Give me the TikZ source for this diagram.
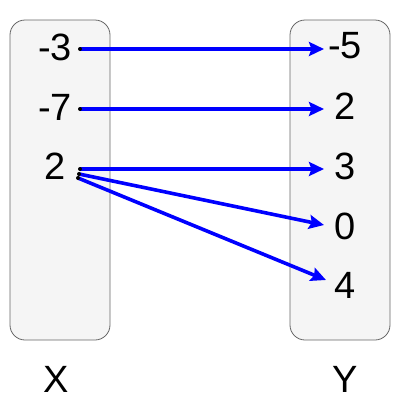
\documentclass[tikz,border=0pt]{standalone}
\usepackage{fontspec}
\setmainfont{Liberation Sans}
\usetikzlibrary{arrows.meta}
\definecolor{setline}{HTML}{666666}
\definecolor{setfill}{HTML}{F5F5F5}
\begin{document}
\begin{tikzpicture}[x=1pt, y=-1pt, >={Stealth[length=15pt,width=14pt,inset=2.5pt]}, line join=round,
  set/.style={draw=setline, fill=setfill, rounded corners=15pt, line width=0.8pt},
  elem/.style={font=\fontsize{38}{38}\selectfont, inner sep=0pt},
  map/.style={->, draw=blue, line width=3.6pt}]
\useasboundingbox (0,0) rectangle (400,400);
        \def\xl{80} \def\xr{324}
\draw[set] (10,20) rectangle (110,340);
\draw[set] (290,20) rectangle (390,340);
% domain
\node[elem] (xa) at (55,47) {-3};
\node[elem] (xb) at (55,107) {-7};
\node[elem] (xc) at (55,166) {2};
% codomain
\node[elem] (ya) at (345,46) {-5};
\node[elem] (yb) at (345,106) {2};
\node[elem] (yc) at (345,166) {3};
\node[elem] (yd) at (345,226) {0};
\node[elem] (ye) at (345,285) {4};
\node[elem] (X) at (56,379) {X};
\node[elem] (Y) at (345,379) {Y};
\coordinate (s1) at (\xl,49);
\coordinate (s2) at (\xl,109);
\coordinate (s3) at (80,169);
\coordinate (s4) at (79,174);
\coordinate (s5) at (78,178);
\coordinate (t1) at (\xr,49);
\coordinate (t2) at (\xr,109);
\coordinate (t3) at (\xr,169);
\coordinate (t4) at (\xr,225);
\coordinate (t5) at (326,280);
        \draw[map] (s1) -- (t1);
        \draw[map] (s2) -- (t2);
        \draw[map] (s3) -- (t3);
        \draw[map] (s4) -- (t4);
        \draw[map] (s5) -- (t5);
\fill (s1)circle(2pt)
(s2)circle(2pt)
(s3)circle(2pt)
(s4)circle(2pt)
(s5)circle(2pt);
    \end{tikzpicture}
\end{document}
